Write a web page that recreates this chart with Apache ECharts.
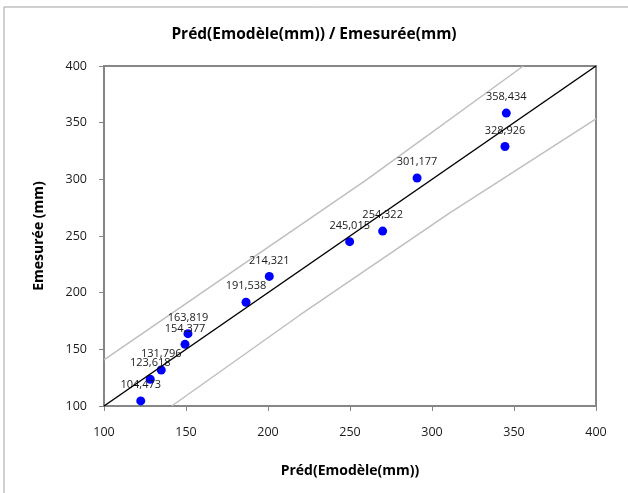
<!DOCTYPE html>
<html>
<head>
<meta charset="utf-8">
<script src="https://cdn.jsdelivr.net/npm/echarts@6/dist/echarts.min.js"></script>
<style>
  html, body { margin: 0; padding: 0; background: #fff; }
  #chart { width: 628px; height: 493px; }
</style>
</head>
<body>
<div id="chart"></div>
<script>
// valeurs
let predX = [122.4, 128.2, 134.9, 149.4, 151.2, 186.6, 200.8, 249.8, 269.9, 290.9, 344.5, 345.3]
let mesureY = [104.473, 123.618, 131.796, 154.377, 163.819, 191.538, 214.321, 245.015, 254.322, 301.177, 328.926, 358.434]
let diagonale = [[100, 100], [400, 400]]
let bandeHaute = [[100, 140.6], [176.8, 217], [260, 299.5], [355.7, 400]]
let bandeBasse = [[141.3, 100], [219.5, 180.3], [310.4, 270], [400, 353.3]]
let ticks = [100, 150, 200, 250, 300, 350, 400]

let chart = echarts.init(document.getElementById('chart'))

let points = predX.map(function (x, i) { return [x, mesureY[i]] })

let axisCommon = {
  type: 'value',
  min: ticks[0],
  max: ticks[ticks.length - 1],
  interval: 50,
  nameLocation: 'middle',
  nameTextStyle: { fontFamily: 'Open Sans', fontWeight: 'bold', fontSize: 14, color: '#000' },
  axisLine: { show: true, lineStyle: { color: '#868686', width: 2 } },
  axisTick: { show: true, length: 5, lineStyle: { color: '#868686', width: 1 } },
  axisLabel: { fontFamily: 'Open Sans', fontSize: 12.5, color: '#1a1a1a' },
  splitLine: { show: false }
}

chart.setOption({
  backgroundColor: '#fff',
  animation: false,
  graphic: [{
    type: 'rect',
    shape: { x: 4, y: 7, width: 700, height: 600 },
    style: { fill: 'none', stroke: '#a0a0a0', lineWidth: 1 }
  }],
  title: {
    text: 'Préd(Emodèle(mm)) / Emesurée(mm)',
    left: 'center',
    top: 22,
    textStyle: { fontFamily: 'Open Sans', fontWeight: 'bold', fontSize: 15.5, color: '#000' }
  },
  grid: {
    left: 104, right: 32, top: 66, bottom: 87,
    show: true, borderColor: '#868686', borderWidth: 2, backgroundColor: 'transparent'
  },
  xAxis: Object.assign({}, axisCommon, {
    name: 'Préd(Emodèle(mm))',
    nameGap: 58,
    axisLabel: Object.assign({}, axisCommon.axisLabel, { margin: 20 })
  }),
  yAxis: Object.assign({}, axisCommon, {
    name: 'Emesurée (mm)',
    nameGap: 58,
    axisLabel: Object.assign({}, axisCommon.axisLabel, { margin: 17 })
  }),
  series: [
    {
      type: 'line',
      data: bandeHaute,
      symbol: 'none',
      lineStyle: { color: '#bfbfbf', width: 1.5 },
      z: 1
    },
    {
      type: 'line',
      data: bandeBasse,
      symbol: 'none',
      lineStyle: { color: '#bfbfbf', width: 1.5 },
      z: 1
    },
    {
      type: 'scatter',
      data: points,
      symbolSize: 9,
      itemStyle: { color: '#0000ff', opacity: 1 },
      label: {
        show: true,
        position: 'top',
        distance: 6,
        fontFamily: 'Open Sans',
        fontSize: 11,
        color: '#1a1a1a',
        formatter: function (p) { return p.value[1].toFixed(3).replace('.', ',') }
      },
      z: 2
    },
    {
      type: 'line',
      data: diagonale,
      symbol: 'none',
      lineStyle: { color: '#000', width: 1.5 },
      z: 3
    }
  ]
})
</script>
</body>
</html>
